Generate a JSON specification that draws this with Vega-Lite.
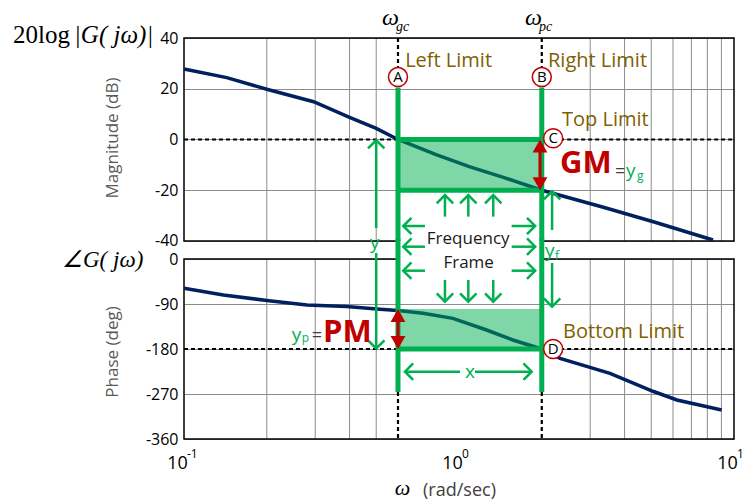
{
"$schema": "https://vega.github.io/schema/vega-lite/v6.json",
"width": 550,
"height": 401,
"autosize": {"type": "none"},
"padding": {"left": 184, "top": 38, "right": 12, "bottom": 62},
"background": "white",
"config": {"view": {"stroke": null}, "font": "Open Sans", "axis": {"labelFont": "Open Sans", "titleFont": "Open Sans"}, "text": {"font": "Open Sans"}},
"datasets": {
"mag": [{"x":0.1,"y":27.8},{"x":0.143,"y":24.4},{"x":0.2,"y":19.8},{"x":0.296,"y":14.9},{"x":0.4,"y":8.7},{"x":0.5,"y":4.4},{"x":0.6,"y":0},{"x":0.83,"y":-6.1},{"x":1.09,"y":-10.7},{"x":1.45,"y":-14.9},{"x":2,"y":-20},{"x":3.35,"y":-26.7},{"x":5.09,"y":-32.4},{"x":8.39,"y":-39.6}],
"phase": [{"x":0.1,"y":-58.7},{"x":0.139,"y":-72},{"x":0.2,"y":-83},{"x":0.28,"y":-92},{"x":0.39,"y":-95},{"x":0.516,"y":-100.7},{"x":0.6,"y":-103},{"x":0.74,"y":-108.7},{"x":0.95,"y":-118.7},{"x":1.26,"y":-142},{"x":1.57,"y":-162},{"x":1.87,"y":-175},{"x":2,"y":-180},{"x":2.33,"y":-198.7},{"x":3.54,"y":-228.7},{"x":5.1,"y":-265},{"x":6.2,"y":-282},{"x":9.02,"y":-302}],
"vg": [{"x":0.2},{"x":0.3},{"x":0.4},{"x":0.5},{"x":3},{"x":4},{"x":5},{"x":6},{"x":7},{"x":8},{"x":9}],
"frame_m": [{"x":0.1,"x2":10,"y":40,"y2":-40}],
"frame_p": [{"x":0.1,"x2":10,"y":0,"y2":-360}],
"white_p": [{"x":0.6,"x2":2,"y":40,"y2":-3}],
"dash_m": [{"x":0.1,"x2":0.6,"y":0,"y2":0},{"x":2.2,"x2":10,"y":0,"y2":0},{"x":0.6,"x2":0.6,"y":40,"y2":25},{"x":2,"x2":2,"y":40,"y2":25}],
"dash_p": [{"x":0.1,"x2":0.6,"y":-180,"y2":-180},{"x":2.2,"x2":10,"y":-180,"y2":-180},{"x":0.6,"x2":0.6,"y":-266,"y2":-360},{"x":2,"x2":2,"y":-266,"y2":-360}],
"fill_m": [{"x":0.6,"x2":2,"y":0,"y2":-20}],
"fill_p": [{"x":0.6,"x2":2,"y":-100,"y2":-180}],
"thick_m": [{"x":0.6,"x2":2,"y":0,"y2":0},{"x":0.6,"x2":2,"y":-20,"y2":-20},{"x":0.6,"x2":0.6,"y":20.5,"y2":-40},{"x":2,"x2":2,"y":20.5,"y2":-40}],
"thick_p": [{"x":0.6,"x2":2,"y":-180,"y2":-180},{"x":0.6,"x2":0.6,"y":40,"y2":-266},{"x":2,"x2":2,"y":40,"y2":-266}],
"thin_m": [{"x":0.5,"x2":0.5,"y":-0.3,"y2":-34.9},{"x":2.18,"x2":2.18,"y":-20.4,"y2":-35.7},{"x":0.889,"x2":0.889,"y":-21.9,"y2":-30.4},{"x":1.081,"x2":1.081,"y":-21.9,"y2":-30.4},{"x":1.332,"x2":1.332,"y":-21.9,"y2":-30.4},{"x":0.627,"x2":0.752,"y":-34.09,"y2":-34.09},{"x":1.554,"x2":1.893,"y":-34.09,"y2":-34.09}],
"heads_m": [{"x":0.5,"y":-0.3,"dir":"up"},{"x":2.18,"y":-20.4,"dir":"up"},{"x":0.889,"y":-21.9,"dir":"up"},{"x":1.081,"y":-21.9,"dir":"up"},{"x":1.332,"y":-21.9,"dir":"up"},{"x":0.627,"y":-34.09,"dir":"left"},{"x":1.893,"y":-34.09,"dir":"right"}],
"thin_p": [{"x":0.5,"x2":0.5,"y":12,"y2":-179},{"x":2.18,"x2":2.18,"y":-8,"y2":-95.4},{"x":0.889,"x2":0.889,"y":-42,"y2":-85.4},{"x":1.081,"x2":1.081,"y":-42,"y2":-85.4},{"x":1.332,"x2":1.332,"y":-42,"y2":-85.4},{"x":0.627,"x2":0.752,"y":24.6,"y2":24.6},{"x":1.554,"x2":1.893,"y":24.6,"y2":24.6},{"x":0.627,"x2":0.752,"y":-23.4,"y2":-23.4},{"x":1.554,"x2":1.893,"y":-23.4,"y2":-23.4},{"x":0.636,"x2":1.008,"y":-225.4,"y2":-225.4},{"x":1.143,"x2":1.838,"y":-225.4,"y2":-225.4}],
"heads_p": [{"x":0.5,"y":-179,"dir":"down"},{"x":2.18,"y":-95.4,"dir":"down"},{"x":0.889,"y":-85.4,"dir":"down"},{"x":1.081,"y":-85.4,"dir":"down"},{"x":1.332,"y":-85.4,"dir":"down"},{"x":0.627,"y":24.6,"dir":"left"},{"x":1.893,"y":24.6,"dir":"right"},{"x":0.627,"y":-23.4,"dir":"left"},{"x":1.893,"y":-23.4,"dir":"right"},{"x":0.636,"y":-225.4,"dir":"left"},{"x":1.838,"y":-225.4,"dir":"right"}],
"gm": [{"x":1.97,"y":-2.56,"y2":-17.44}],
"pm": [{"x":0.6,"y":-113,"y2":-167}],
"circ_m": [{"x":0.6,"y":24.6,"t":"A"},{"x":2,"y":24.6,"t":"B"},{"x":2.2,"y":0.5,"t":"C"}],
"circ_p": [{"x":2.2,"y":-180,"t":"D"}],
"lab_m": [{"x":0.637,"y":30.8,"t":"Left Limit"},{"x":2.107,"y":30.8,"t":"Right Limit"},{"x":2.37,"y":7.5,"t":"Top Limit"}],
"lab_p": [{"x":2.39,"y":-145,"t":"Bottom Limit"}],
"gm_t": [{"x":2.33,"y":-13.3,"t":"GM"}],
"pm_t": [{"x":0.4815,"y":-165.4,"t":"PM"}],
"eq_m": [{"x":3.69,"y":-14.7,"t":"="}],
"eq_p": [{"x":0.2913,"y":-163,"t":"="}],
"gr_m": [{"x":4.05,"y":-14.7,"t":"y"},{"x":0.4747,"y":-42.96,"t":"y"},{"x":2.055,"y":-46.2,"t":"y"}],
"gr_p": [{"x":0.2463,"y":-163,"t":"y"},{"x":1.051,"y":-238,"t":"x"}],
"sub_m": [{"x":4.44,"y":-15.8,"t":"g"},{"x":2.234,"y":-47.5,"t":"f"}],
"sub_p": [{"x":0.268,"y":-166.8,"t":"p"}],
"blk_p": [{"x":1.08,"y":30,"t":"Frequency"},{"x":1.084,"y":-18.6,"t":"Frame"}],
"exp_p": [{"x":0.1,"y":-398,"t":"-1"},{"x":1,"y":-398,"t":"0"},{"x":10,"y":-398,"t":"1"}],
"serif_up": [{"x":0.0239,"y":38.15,"t":"20log"}],
"serif_it": [{"x":0.0398,"y":38.15,"t":"|G( jω)|"}],
"omega_m": [{"x":0.5248,"y":45.1,"t":"ω"},{"x":1.738,"y":45.1,"t":"ω"}],
"osub_m": [{"x":0.59,"y":42.6,"t":"gc"},{"x":1.954,"y":42.6,"t":"pc"}],
"omega_p": [{"x":0.623,"y":-472,"t":"ω"}],
"angle_p": [{"x":0.036,"y":-16,"t":"∠G( jω)"}]
},
"encoding": {
"x": {"field": "x", "type": "quantitative", "scale": {"type": "log", "domain": [0.1, 10], "nice": false},
"axis": {"orient": "bottom", "values": [0.1, 1, 10], "labelExpr": "'10'", "grid": false, "ticks": false, "tickSize": 0, "domain": false, "labelFontSize": 18, "labelColor": "black", "labelPadding": 29, "labelBaseline": "alphabetic", "labelOffset": -7, "labelFlush": false, "labelOverlap": false, "labelBound": false, "title": "(rad/sec)", "titleFontSize": 18, "titleFontWeight": "normal", "titleColor": "#404040", "titleX": 275, "titleY": 51.5, "titleAlign": "center", "titleBaseline": "middle"}}
},
"layer": [
{"data": {"name": "vg"}, "mark": {"type": "rule", "color": "#8c8c8c", "strokeWidth": 1}, "encoding": {"y": {"datum": 40, "type": "quantitative", "scale": {"domain": [-118.03, 40], "nice": false, "zero": false}, "axis": null}, "y2": {"datum": -40}}},
{"data": {"name": "vg"}, "mark": {"type": "rule", "color": "#8c8c8c", "strokeWidth": 1}, "encoding": {"y": {"datum": 0, "type": "quantitative", "scale": {"domain": [-360, 442], "nice": false, "zero": false}, "axis": null}, "y2": {"datum": -360}}},
{"data": {"name": "frame_m"}, "mark": {"type": "rect", "filled": false, "stroke": "black", "strokeWidth": 1.5}, "encoding": {"x2": {"field": "x2"}, "y": {"field": "y", "type": "quantitative", "scale": {"domain": [-118.03, 40], "nice": false, "zero": false}, "axis": null}, "y2": {"field": "y2"}}},
{"data": {"name": "frame_p"}, "mark": {"type": "rect", "filled": false, "stroke": "black", "strokeWidth": 1.5}, "encoding": {"x2": {"field": "x2"}, "y": {"field": "y", "type": "quantitative", "scale": {"domain": [-360, 442], "nice": false, "zero": false}, "axis": null}, "y2": {"field": "y2"}}},
{"data": {"name": "mag"}, "mark": {"type": "line", "color": "#002060", "strokeWidth": 3.5},
 "encoding": {"y": {"field": "y", "type": "quantitative", "scale": {"domain": [-118.03, 40], "nice": false, "zero": false},
 "axis": {"orient": "left", "values": [-40, -20, 0, 20, 40], "labelExpr": "'' + datum.value", "grid": true, "gridColor": "#8c8c8c", "gridWidth": 1, "gridOpacity": 1, "domain": false, "ticks": false, "tickSize": 0, "labelPadding": 6, "labelFontSize": 16, "labelColor": "black", "labelFlush": false, "labelOverlap": false, "title": "Magnitude (dB)", "titleFontSize": 17, "titleFontWeight": "normal", "titleColor": "#595959", "titleX": -71.5, "titleY": 99.5, "titleAngle": 270, "titleAlign": "center", "titleBaseline": "middle"}}}},
{"data": {"name": "phase"}, "mark": {"type": "line", "color": "#002060", "strokeWidth": 3.5},
 "encoding": {"y": {"field": "y", "type": "quantitative", "scale": {"domain": [-360, 442], "nice": false, "zero": false},
 "axis": {"orient": "left", "values": [0, -90, -180, -270, -360], "labelExpr": "'' + datum.value", "grid": true, "gridColor": "#8c8c8c", "gridWidth": 1, "gridOpacity": 1, "domain": false, "ticks": false, "tickSize": 0, "labelPadding": 6, "labelFontSize": 16, "labelColor": "black", "labelFlush": false, "labelOverlap": false, "title": "Phase (deg)", "titleFontSize": 17, "titleFontWeight": "normal", "titleColor": "#595959", "titleX": -71.5, "titleY": 313.5, "titleAngle": 270, "titleAlign": "center", "titleBaseline": "middle"}}}},
{"data": {"name": "white_p"}, "mark": {"type": "rect", "color": "white", "opacity": 1}, "encoding": {"x2": {"field": "x2"}, "y": {"field": "y", "type": "quantitative", "scale": {"domain": [-360, 442], "nice": false, "zero": false}, "axis": null}, "y2": {"field": "y2"}}},
{"data": {"name": "dash_m"}, "mark": {"type": "rule", "color": "black", "strokeWidth": 2.2, "strokeDash": [4, 3]}, "encoding": {"x2": {"field": "x2"}, "y": {"field": "y", "type": "quantitative", "scale": {"domain": [-118.03, 40], "nice": false, "zero": false}, "axis": null}, "y2": {"field": "y2"}}},
{"data": {"name": "dash_p"}, "mark": {"type": "rule", "color": "black", "strokeWidth": 2.2, "strokeDash": [4, 3]}, "encoding": {"x2": {"field": "x2"}, "y": {"field": "y", "type": "quantitative", "scale": {"domain": [-360, 442], "nice": false, "zero": false}, "axis": null}, "y2": {"field": "y2"}}},
{"data": {"name": "fill_m"}, "mark": {"type": "rect", "color": "#00b050", "opacity": 0.5}, "encoding": {"x2": {"field": "x2"}, "y": {"field": "y", "type": "quantitative", "scale": {"domain": [-118.03, 40], "nice": false, "zero": false}, "axis": null}, "y2": {"field": "y2"}}},
{"data": {"name": "fill_p"}, "mark": {"type": "rect", "color": "#00b050", "opacity": 0.5}, "encoding": {"x2": {"field": "x2"}, "y": {"field": "y", "type": "quantitative", "scale": {"domain": [-360, 442], "nice": false, "zero": false}, "axis": null}, "y2": {"field": "y2"}}},
{"data": {"name": "thick_m"}, "mark": {"type": "rule", "color": "#00b050", "strokeWidth": 5}, "encoding": {"x2": {"field": "x2"}, "y": {"field": "y", "type": "quantitative", "scale": {"domain": [-118.03, 40], "nice": false, "zero": false}, "axis": null}, "y2": {"field": "y2"}}},
{"data": {"name": "thick_p"}, "mark": {"type": "rule", "color": "#00b050", "strokeWidth": 5}, "encoding": {"x2": {"field": "x2"}, "y": {"field": "y", "type": "quantitative", "scale": {"domain": [-360, 442], "nice": false, "zero": false}, "axis": null}, "y2": {"field": "y2"}}},
{"data": {"name": "thin_m"}, "mark": {"type": "rule", "color": "#00b050", "strokeWidth": 2.5}, "encoding": {"x2": {"field": "x2"}, "y": {"field": "y", "type": "quantitative", "scale": {"domain": [-118.03, 40], "nice": false, "zero": false}, "axis": null}, "y2": {"field": "y2"}}},
{"data": {"name": "thin_p"}, "mark": {"type": "rule", "color": "#00b050", "strokeWidth": 2.5}, "encoding": {"x2": {"field": "x2"}, "y": {"field": "y", "type": "quantitative", "scale": {"domain": [-360, 442], "nice": false, "zero": false}, "axis": null}, "y2": {"field": "y2"}}},
{"data": {"name": "heads_m"}, "mark": {"type": "point", "filled": false, "color": "#00b050", "strokeWidth": 2.5, "size": 270, "opacity": 1},
 "encoding": {"y": {"field": "y", "type": "quantitative", "scale": {"domain": [-118.03, 40], "nice": false, "zero": false}, "axis": null}, "shape": {"field": "dir", "type": "nominal", "scale": {"domain": ["up", "down", "left", "right"], "range": ["M-1,1L0,0L1,1", "M-1,-1L0,0L1,-1", "M1,-1L0,0L1,1", "M-1,-1L0,0L-1,1"]}, "legend": null}}},
{"data": {"name": "heads_p"}, "mark": {"type": "point", "filled": false, "color": "#00b050", "strokeWidth": 2.5, "size": 270, "opacity": 1},
 "encoding": {"y": {"field": "y", "type": "quantitative", "scale": {"domain": [-360, 442], "nice": false, "zero": false}, "axis": null}, "shape": {"field": "dir", "type": "nominal", "scale": {"domain": ["up", "down", "left", "right"], "range": ["M-1,1L0,0L1,1", "M-1,-1L0,0L1,-1", "M1,-1L0,0L1,1", "M-1,-1L0,0L-1,1"]}, "legend": null}}},
{"data": {"name": "gm"}, "mark": {"type": "rule", "color": "#c00000", "strokeWidth": 3}, "encoding": {"y": {"field": "y", "type": "quantitative", "scale": {"domain": [-118.03, 40], "nice": false, "zero": false}, "axis": null}, "y2": {"field": "y2"}}},
{"data": {"name": "gm"}, "mark": {"type": "point", "shape": "triangle-up", "filled": true, "color": "#c00000", "size": 220, "opacity": 1}, "encoding": {"y": {"field": "y", "type": "quantitative", "scale": {"domain": [-118.03, 40], "nice": false, "zero": false}, "axis": null}}},
{"data": {"name": "gm"}, "mark": {"type": "point", "shape": "triangle-down", "filled": true, "color": "#c00000", "size": 220, "opacity": 1}, "encoding": {"y": {"field": "y2", "type": "quantitative", "scale": {"domain": [-118.03, 40], "nice": false, "zero": false}, "axis": null}}},
{"data": {"name": "pm"}, "mark": {"type": "rule", "color": "#c00000", "strokeWidth": 3}, "encoding": {"y": {"field": "y", "type": "quantitative", "scale": {"domain": [-360, 442], "nice": false, "zero": false}, "axis": null}, "y2": {"field": "y2"}}},
{"data": {"name": "pm"}, "mark": {"type": "point", "shape": "triangle-up", "filled": true, "color": "#c00000", "size": 220, "opacity": 1}, "encoding": {"y": {"field": "y", "type": "quantitative", "scale": {"domain": [-360, 442], "nice": false, "zero": false}, "axis": null}}},
{"data": {"name": "pm"}, "mark": {"type": "point", "shape": "triangle-down", "filled": true, "color": "#c00000", "size": 220, "opacity": 1}, "encoding": {"y": {"field": "y2", "type": "quantitative", "scale": {"domain": [-360, 442], "nice": false, "zero": false}, "axis": null}}},
{"data": {"name": "circ_m"}, "mark": {"type": "point", "shape": "circle", "size": 361, "filled": true, "fill": "white", "stroke": "#c00000", "strokeWidth": 1.5, "opacity": 1}, "encoding": {"y": {"field": "y", "type": "quantitative", "scale": {"domain": [-118.03, 40], "nice": false, "zero": false}, "axis": null}}},
{"data": {"name": "circ_p"}, "mark": {"type": "point", "shape": "circle", "size": 361, "filled": true, "fill": "white", "stroke": "#c00000", "strokeWidth": 1.5, "opacity": 1}, "encoding": {"y": {"field": "y", "type": "quantitative", "scale": {"domain": [-360, 442], "nice": false, "zero": false}, "axis": null}}},
{"data": {"name": "circ_m"}, "mark": {"type": "text", "align": "center", "baseline": "middle", "fontSize": 15, "color": "black"}, "encoding": {"y": {"field": "y", "type": "quantitative", "scale": {"domain": [-118.03, 40], "nice": false, "zero": false}, "axis": null}, "text": {"field": "t"}}},
{"data": {"name": "circ_p"}, "mark": {"type": "text", "align": "center", "baseline": "middle", "fontSize": 15, "color": "black"}, "encoding": {"y": {"field": "y", "type": "quantitative", "scale": {"domain": [-360, 442], "nice": false, "zero": false}, "axis": null}, "text": {"field": "t"}}},
{"data": {"name": "lab_m"}, "mark": {"type": "text", "align": "left", "baseline": "middle", "fontSize": 20, "color": "#7f6000"}, "encoding": {"y": {"field": "y", "type": "quantitative", "scale": {"domain": [-118.03, 40], "nice": false, "zero": false}, "axis": null}, "text": {"field": "t"}}},
{"data": {"name": "lab_p"}, "mark": {"type": "text", "align": "left", "baseline": "middle", "fontSize": 20, "color": "#7f6000"}, "encoding": {"y": {"field": "y", "type": "quantitative", "scale": {"domain": [-360, 442], "nice": false, "zero": false}, "axis": null}, "text": {"field": "t"}}},
{"data": {"name": "gm_t"}, "mark": {"type": "text", "align": "left", "baseline": "alphabetic", "fontSize": 31, "fontWeight": "bold", "color": "#c00000"}, "encoding": {"y": {"field": "y", "type": "quantitative", "scale": {"domain": [-118.03, 40], "nice": false, "zero": false}, "axis": null}, "text": {"field": "t"}}},
{"data": {"name": "pm_t"}, "mark": {"type": "text", "align": "right", "baseline": "alphabetic", "fontSize": 31, "fontWeight": "bold", "color": "#c00000"}, "encoding": {"y": {"field": "y", "type": "quantitative", "scale": {"domain": [-360, 442], "nice": false, "zero": false}, "axis": null}, "text": {"field": "t"}}},
{"data": {"name": "eq_m"}, "mark": {"type": "text", "align": "left", "baseline": "alphabetic", "fontSize": 18, "color": "#404040"}, "encoding": {"y": {"field": "y", "type": "quantitative", "scale": {"domain": [-118.03, 40], "nice": false, "zero": false}, "axis": null}, "text": {"field": "t"}}},
{"data": {"name": "eq_p"}, "mark": {"type": "text", "align": "left", "baseline": "alphabetic", "fontSize": 18, "color": "#404040"}, "encoding": {"y": {"field": "y", "type": "quantitative", "scale": {"domain": [-360, 442], "nice": false, "zero": false}, "axis": null}, "text": {"field": "t"}}},
{"data": {"name": "gr_m"}, "mark": {"type": "text", "align": "left", "baseline": "alphabetic", "fontSize": 19, "color": "#00b050"}, "encoding": {"y": {"field": "y", "type": "quantitative", "scale": {"domain": [-118.03, 40], "nice": false, "zero": false}, "axis": null}, "text": {"field": "t"}}},
{"data": {"name": "gr_p"}, "mark": {"type": "text", "align": "left", "baseline": "alphabetic", "fontSize": 19, "color": "#00b050"}, "encoding": {"y": {"field": "y", "type": "quantitative", "scale": {"domain": [-360, 442], "nice": false, "zero": false}, "axis": null}, "text": {"field": "t"}}},
{"data": {"name": "sub_m"}, "mark": {"type": "text", "align": "left", "baseline": "alphabetic", "fontSize": 12, "color": "#00b050"}, "encoding": {"y": {"field": "y", "type": "quantitative", "scale": {"domain": [-118.03, 40], "nice": false, "zero": false}, "axis": null}, "text": {"field": "t"}}},
{"data": {"name": "sub_p"}, "mark": {"type": "text", "align": "left", "baseline": "alphabetic", "fontSize": 12, "color": "#00b050"}, "encoding": {"y": {"field": "y", "type": "quantitative", "scale": {"domain": [-360, 442], "nice": false, "zero": false}, "axis": null}, "text": {"field": "t"}}},
{"data": {"name": "blk_p"}, "mark": {"type": "text", "align": "center", "baseline": "alphabetic", "fontSize": 17, "color": "#1a1a1a"}, "encoding": {"y": {"field": "y", "type": "quantitative", "scale": {"domain": [-360, 442], "nice": false, "zero": false}, "axis": null}, "text": {"field": "t"}}},
{"data": {"name": "exp_p"}, "mark": {"type": "text", "align": "left", "baseline": "alphabetic", "fontSize": 12, "dx": 3, "color": "black", "clip": false}, "encoding": {"y": {"field": "y", "type": "quantitative", "scale": {"domain": [-360, 442], "nice": false, "zero": false}, "axis": null}, "text": {"field": "t"}}},
{"data": {"name": "serif_up"}, "mark": {"type": "text", "align": "left", "baseline": "alphabetic", "fontSize": 25, "font": "Liberation Serif", "color": "black", "clip": false}, "encoding": {"y": {"field": "y", "type": "quantitative", "scale": {"domain": [-118.03, 40], "nice": false, "zero": false}, "axis": null}, "text": {"field": "t"}}},
{"data": {"name": "serif_it"}, "mark": {"type": "text", "align": "left", "baseline": "alphabetic", "fontSize": 25, "font": "Liberation Serif", "fontStyle": "italic", "color": "black", "clip": false}, "encoding": {"y": {"field": "y", "type": "quantitative", "scale": {"domain": [-118.03, 40], "nice": false, "zero": false}, "axis": null}, "text": {"field": "t"}}},
{"data": {"name": "omega_m"}, "mark": {"type": "text", "align": "left", "baseline": "alphabetic", "fontSize": 24, "font": "Liberation Serif", "fontStyle": "italic", "color": "black", "clip": false}, "encoding": {"y": {"field": "y", "type": "quantitative", "scale": {"domain": [-118.03, 40], "nice": false, "zero": false}, "axis": null}, "text": {"field": "t"}}},
{"data": {"name": "osub_m"}, "mark": {"type": "text", "align": "left", "baseline": "alphabetic", "fontSize": 14, "font": "Liberation Serif", "fontStyle": "italic", "color": "black", "clip": false}, "encoding": {"y": {"field": "y", "type": "quantitative", "scale": {"domain": [-118.03, 40], "nice": false, "zero": false}, "axis": null}, "text": {"field": "t"}}},
{"data": {"name": "omega_p"}, "mark": {"type": "text", "align": "center", "baseline": "alphabetic", "fontSize": 22, "font": "Liberation Serif", "fontStyle": "italic", "color": "black", "clip": false}, "encoding": {"y": {"field": "y", "type": "quantitative", "scale": {"domain": [-360, 442], "nice": false, "zero": false}, "axis": null}, "text": {"field": "t"}}},
{"data": {"name": "angle_p"}, "mark": {"type": "text", "align": "left", "baseline": "alphabetic", "fontSize": 23, "font": "Liberation Serif", "fontStyle": "italic", "color": "black", "clip": false}, "encoding": {"y": {"field": "y", "type": "quantitative", "scale": {"domain": [-360, 442], "nice": false, "zero": false}, "axis": null}, "text": {"field": "t"}}}
],
"resolve": {"scale": {"y": "independent"}, "axis": {"y": "independent"}}
}
